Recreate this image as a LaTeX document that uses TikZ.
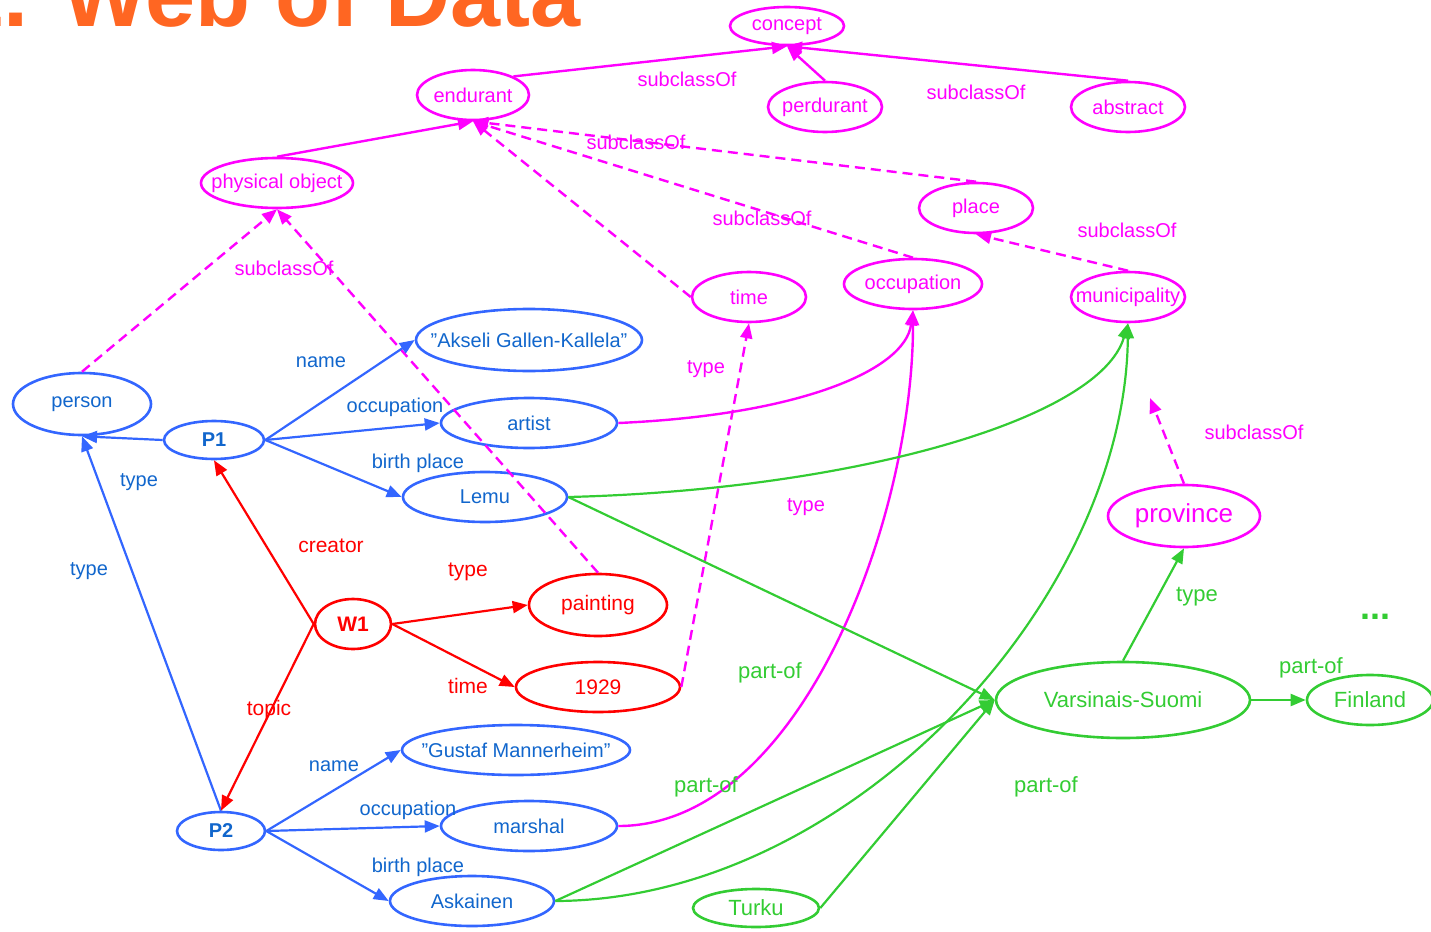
\documentclass[tikz,border=0pt]{standalone}
\usepackage{fontspec}
\setmainfont{Liberation Sans}
\usetikzlibrary{shapes.geometric,arrows.meta}
\definecolor{mag}{RGB}{255,0,255}
\definecolor{bline}{RGB}{51,102,255}
\definecolor{btext}{RGB}{17,102,204}
\definecolor{rline}{RGB}{255,0,0}
\definecolor{gline}{RGB}{51,204,51}
\definecolor{ttl}{RGB}{255,102,34}
\newcommand{\sizefont}[1]{\fontsize{#1}{#1}\selectfont}

\begin{document}
\begin{tikzpicture}[x=1pt,y=-1pt,
    every node/.style={font=\sizefont{20}},
    ell/.style={ellipse, line width=2.6pt, inner sep=0pt,
        execute at begin node={\hbox to 0pt\bgroup\hss},
        execute at end node={\hss\egroup}},
    sz/.style 2 args={minimum width=#1pt, minimum height=#2pt},
    mnode/.style={ell, draw=mag, text=mag},
    bnode/.style={ell, draw=bline, text=btext},
    rnode/.style={ell, draw=rline, text=rline, font=\sizefont{21}},
    gnode/.style={ell, draw=gline, text=gline, font=\sizefont{22}},
    tip/.style={-{Triangle[length=15pt,width=12pt]}},
    medge/.style={tip, draw=mag, line width=2.4pt},
    mdash/.style={medge, dash pattern=on 10pt off 6pt},
    bedge/.style={tip, draw=bline, line width=2.2pt},
    redge/.style={tip, draw=rline, line width=2.2pt},
    gedge/.style={tip, draw=gline, line width=2.2pt},
    mlbl/.style={text=mag, inner sep=0pt},
    blbl/.style={text=btext, inner sep=0pt},
    rlbl/.style={text=rline, inner sep=0pt, font=\sizefont{21}},
    glbl/.style={text=gline, inner sep=0pt, font=\sizefont{22}}]
\useasboundingbox (0,0) rectangle (1431,931);

% title
\node[anchor=base east, text=ttl, font=\bfseries\sizefont{90}] (title) at (584,27) {1. Web of Data};

% ontology
\node[mnode, sz={114}{38}] (concept) at (787,26) {concept};
\node[mnode, sz={112}{50}] (endurant) at (473,95) {endurant};
\node[mnode, sz={114}{50}] (perdurant) at (825,107) {perdurant};
\node[mnode, sz={114}{50}] (abstract) at (1128,107) {abstract};
\node[mnode, sz={152}{50}] (physobj) at (277,183) {physical object};
\node[mnode, sz={114}{50}] (place) at (976,208) {place};
\node[mnode, sz={114}{50}] (time) at (749,297) {time};
\node[mnode, sz={138}{50}] (occupation) at (913,284) {occupation};
\node[mnode, sz={114}{50}] (municipality) at (1128,297) {municipality};
\node[mnode, sz={152}{62}, font=\sizefont{26}] (province) at (1184,516) {province};
\coordinate (subtip) at (1150,398);

% persons
\node[bnode, sz={226}{62}] (akseli) at (529,340) {”Akseli Gallen-Kallela”};
\node[bnode, sz={138}{62}] (person) at (82,404) {person};
\node[bnode, sz={100}{38}, font=\bfseries\sizefont{20}] (p1) at (214,440) {P1};
\node[bnode, sz={176}{50}] (artist) at (529,423) {artist};
\node[bnode, sz={164}{50}] (lemu) at (485,497) {Lemu};
\node[bnode, sz={228}{50}] (gustaf) at (516,750) {”Gustaf Mannerheim”};
\node[bnode, sz={88}{38}, font=\bfseries\sizefont{20}] (p2) at (221,831) {P2};
\node[bnode, sz={176}{50}] (marshal) at (529,826) {marshal};
\node[bnode, sz={164}{50}] (askainen) at (472,901) {Askainen};

% work
\node[rnode, sz={76}{50}, font=\bfseries\sizefont{21}] (w1) at (353,624) {W1};
\node[rnode, sz={138}{62}] (painting) at (598,605) {painting};
\node[rnode, sz={164}{50}] (y1929) at (598,687) {1929};

% places
\node[gnode, sz={254}{76}] (vs) at (1123,700) {Varsinais-Suomi};
\node[gnode, sz={126}{50}] (finland) at (1370,700) {Finland};
\node[gnode, sz={126}{38}] (turku) at (756,908) {Turku};
\node[anchor=base, text=gline, font=\bfseries\sizefont{36}] (more) at (1375,619) {...};

% subclassOf
\draw[medge] (endurant.north east) -- (concept.south);
\draw[medge] (perdurant.north) -- (concept.south);
\draw[medge] (abstract.north) -- (concept.south);
\draw[medge] (physobj.north) -- (endurant.south);
\draw[mdash] (place.north) -- (endurant.south);
\draw[mdash] (occupation.north) -- (endurant.south);
\draw[mdash] (time.west) -- (endurant.south);
\draw[mdash] (person.north) -- (physobj.south);
\draw[mdash] (painting.north) -- (physobj.south);
\draw[mdash] (municipality.north) -- (place.south);
\draw[mdash] (province.north) -- (subtip);
\draw[mdash] (y1929.east) -- (time.south);
\draw[medge] (artist.east) .. controls (800,415) and (905,370) .. (occupation.south);
\draw[medge] (marshal.east) .. controls (800,826) and (913,520) .. (occupation.south);

% properties
\draw[bedge] (p1.west) -- (person.south);
\draw[bedge] (p2.north) -- (person.south);
\foreach \t in {akseli,artist,lemu}
    \draw[bedge] (p1.east) -- (\t.west);
\foreach \t in {gustaf,marshal,askainen}
    \draw[bedge] (p2.east) -- (\t.west);
\draw[redge] (w1.west) -- (p1.south);
\draw[redge] (w1.west) -- (p2.north);
\draw[redge] (w1.east) -- (painting.west);
\draw[redge] (w1.east) -- (y1929.west);

% part-of
\draw[gedge] (lemu.east) .. controls (850,490) and (1100,420) .. (municipality.south);
\draw[gedge] (askainen.east) .. controls (850,900) and (1125,600) .. (municipality.south);
\foreach \s in {lemu,askainen,turku}
    \draw[gedge] (\s.east) -- (vs.west);
\draw[gedge] (vs.north) -- (province.south);
\draw[gedge] (vs.east) -- (finland.west);

% labels
\node[mlbl] (l1) at (687,79) {subclassOf};
\node[mlbl] (l2) at (976,92) {subclassOf};
\node[mlbl] (l3) at (636,142) {subclassOf};
\node[mlbl] (l4) at (762,218) {subclassOf};
\node[mlbl] (l5) at (1127,230) {subclassOf};
\node[mlbl] (l6) at (284,268) {subclassOf};
\node[mlbl] (l7) at (1254,432) {subclassOf};
\node[mlbl] (l8) at (706,369) {type};
\node[mlbl] (l9) at (806,507) {type};
\node[blbl] (l10) at (321,362) {name};
\node[blbl] (l11) at (395,407) {occupation};
\node[blbl] (l12) at (418,463) {birth place};
\node[blbl] (l13) at (139,482) {type};
\node[blbl] (l14) at (89,571) {type};
\node[blbl] (l15) at (334,766) {name};
\node[blbl] (l16) at (408,810) {occupation};
\node[blbl] (l17) at (418,867) {birth place};
\node[rlbl] (l18) at (331,546) {creator};
\node[rlbl] (l19) at (468,572) {type};
\node[rlbl] (l20) at (468,686) {time};
\node[rlbl] (l21) at (269,710) {topic};
\node[glbl] (l22) at (770,673) {part-of};
\node[glbl] (l23) at (706,787) {part-of};
\node[glbl] (l24) at (1046,787) {part-of};
\node[glbl] (l25) at (1311,668) {part-of};
\node[glbl] (l26) at (1197,597) {type};
\end{tikzpicture}
\end{document}
